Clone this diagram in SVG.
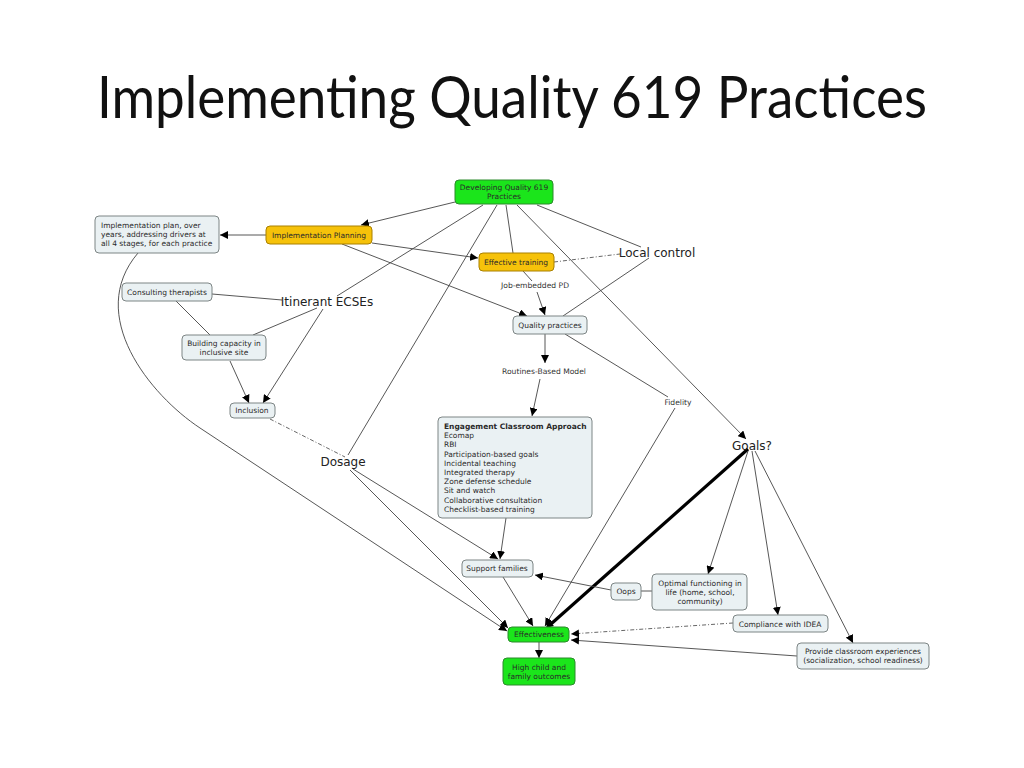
<svg xmlns="http://www.w3.org/2000/svg" width="1024" height="768" viewBox="0 0 1024 768">
<style>
.title{font-family:"Lato","Open Sans",sans-serif;font-size:58px;fill:#111}
.n{fill:#EAF1F3;stroke:#7d8585;stroke-width:1}
.g{fill:#1BE51B;stroke:#2c8a2c;stroke-width:1}
.o{fill:#F6C20A;stroke:#a98000;stroke-width:1}
.t{font-family:"DejaVu Sans",Verdana,sans-serif;font-size:7.5px;fill:#2a2a2a;text-anchor:middle}
.tl{font-family:"DejaVu Sans",Verdana,sans-serif;font-size:7.5px;fill:#2a2a2a}
.lp{font-family:"DejaVu Sans",Verdana,sans-serif;font-size:12px;fill:#222;text-anchor:middle}
.ls{font-family:"DejaVu Sans",Verdana,sans-serif;font-size:7.6px;fill:#333;text-anchor:middle}
.c{fill:none;stroke:#444;stroke-width:0.9}
.d{fill:none;stroke:#555;stroke-width:0.9;stroke-dasharray:4 2 1 2}
.k{fill:none;stroke:#000;stroke-width:3.2}
</style>
<defs>
<marker id="a" viewBox="0 0 10 10" refX="10" refY="5" markerWidth="8" markerHeight="8" markerUnits="userSpaceOnUse" orient="auto">
<path d="M0,0 L10,5 L0,10 z" fill="#000"/>
</marker>
</defs>
<rect width="1024" height="768" fill="#fff"/>
<text class="title" x="97" y="118" textLength="830" lengthAdjust="spacingAndGlyphs">Implementing Quality 619 Practices</text>

<g id="connectors">
<path class="c" d="M455,202 L361,225" marker-end="url(#a)"/>
<path class="c" d="M266,235 L220,235" marker-end="url(#a)"/>
<path class="c" d="M372,243 L478,258" marker-end="url(#a)"/>
<path class="c" d="M342,244 L527,316" marker-end="url(#a)"/>
<path class="c" d="M506,205 L513,253"/>
<path class="c" d="M537,205 L641,247"/>
<path class="c" d="M649,258 L563,316"/>
<path class="d" d="M554,262 L620,254"/>
<path class="c" d="M523,271 L532,281"/>
<path class="c" d="M537,292 L545,315" marker-end="url(#a)"/>
<path class="c" d="M483,205 L337,296"/>
<path class="c" d="M497,205 L348,455"/>
<path class="c" d="M517,205 L746,439" marker-end="url(#a)"/>
<path class="c" d="M212,294 L282,300"/>
<path class="c" d="M176,301 L210,335"/>
<path class="c" d="M317,308 L253,335"/>
<path class="c" d="M323,309 L263,403" marker-end="url(#a)"/>
<path class="c" d="M230,361 L249,403" marker-end="url(#a)"/>
<path class="d" d="M270,419 L345,457"/>
<path class="c" d="M353,469 L498,559" marker-end="url(#a)"/>
<path class="c" d="M350,470 L508,628" marker-end="url(#a)"/>
<path class="c" d="M138,253 C85,315 150,395 200,428 L507,631" marker-end="url(#a)"/>
<path class="c" d="M545,334 L545,363" marker-end="url(#a)"/>
<path class="c" d="M540,379 L532,416" marker-end="url(#a)"/>
<path class="c" d="M565,334 L668,397"/>
<path class="c" d="M675,408 L545,626" marker-end="url(#a)"/>
<path class="c" d="M506,518 L500,559" marker-end="url(#a)"/>
<path class="c" d="M503,577 L533,626" marker-end="url(#a)"/>
<path class="k" d="M748,449 L551,624"/>
<path d="M546,628 L548,620 L554,626 z" fill="#000"/>
<path class="c" d="M748,451 L708,574" marker-end="url(#a)"/>
<path class="c" d="M752,451 L778,615" marker-end="url(#a)"/>
<path class="c" d="M755,451 L853,643" marker-end="url(#a)"/>
<path class="c" d="M641,591 L652,591"/>
<path class="c" d="M611,590 L535,575" marker-end="url(#a)"/>
<path class="d" d="M733,623 L571,634" marker-end="url(#a)"/>
<path class="c" d="M797,656 L571,640" marker-end="url(#a)"/>
<path class="c" d="M539,642 L539,658" marker-end="url(#a)"/>
</g>

<g id="developing">
<rect class="g" x="455" y="180" width="98" height="24" rx="4"/>
<text class="t" x="504" y="190">Developing Quality 619</text>
<text class="t" x="504" y="199">Practices</text>
</g>
<g id="impl-planning">
<rect class="o" x="266" y="226" width="106" height="18" rx="4"/>
<text class="t" x="319" y="238">Implementation Planning</text>
</g>
<g id="impl-plan">
<rect class="n" x="95" y="216" width="124" height="37" rx="4" stroke="#333" stroke-width="1.6"/>
<text class="tl" x="101" y="228">Implementation plan, over</text>
<text class="tl" x="101" y="237">years, addressing drivers at</text>
<text class="tl" x="101" y="246">all 4 stages, for each practice</text>
</g>
<g id="consulting">
<rect class="n" x="122" y="283" width="90" height="18" rx="4"/>
<text class="t" x="167" y="295">Consulting therapists</text>
</g>
<g id="itinerant">
<text class="lp" x="327" y="306">Itinerant ECSEs</text>
</g>
<g id="effective-training">
<rect class="o" x="479" y="253" width="75" height="18" rx="4"/>
<text class="t" x="516" y="265">Effective training</text>
</g>
<g id="local-control">
<text class="lp" x="657" y="257">Local control</text>
</g>
<g id="job-embedded">
<text class="ls" x="535" y="288">Job-embedded PD</text>
</g>
<g id="quality-practices">
<rect class="n" x="513" y="316" width="74" height="18" rx="4"/>
<text class="t" x="550" y="328">Quality practices</text>
</g>
<g id="building">
<rect class="n" x="182" y="335" width="84" height="25" rx="4"/>
<text class="t" x="224" y="346">Building capacity in</text>
<text class="t" x="224" y="355">inclusive site</text>
</g>
<g id="inclusion">
<rect class="n" x="230" y="403" width="45" height="15" rx="4"/>
<text class="t" x="252" y="413">Inclusion</text>
</g>
<g id="dosage">
<text class="lp" x="343" y="466">Dosage</text>
</g>
<g id="routines">
<text class="ls" x="544" y="374">Routines-Based Model</text>
</g>
<g id="fidelity">
<text class="ls" x="678" y="405">Fidelity</text>
</g>
<g id="goals">
<text class="lp" x="752" y="450">Goals?</text>
</g>
<g id="engagement">
<rect class="n" x="438" y="417" width="154" height="101" rx="4"/>
<text class="tl" x="444" y="429" font-weight="bold">Engagement Classroom Approach</text>
<text class="tl" x="444" y="438">Ecomap</text>
<text class="tl" x="444" y="447">RBI</text>
<text class="tl" x="444" y="456.5">Participation-based goals</text>
<text class="tl" x="444" y="465.5">Incidental teaching</text>
<text class="tl" x="444" y="475">Integrated therapy</text>
<text class="tl" x="444" y="484">Zone defense schedule</text>
<text class="tl" x="444" y="493">Sit and watch</text>
<text class="tl" x="444" y="502.5">Collaborative consultation</text>
<text class="tl" x="444" y="512">Checklist-based training</text>
</g>
<g id="support-families">
<rect class="n" x="462" y="560" width="71" height="17" rx="4"/>
<text class="t" x="497" y="571">Support families</text>
</g>
<g id="oops">
<rect class="n" x="611" y="583" width="30" height="17" rx="4"/>
<text class="t" x="626" y="594">Oops</text>
</g>
<g id="optimal">
<rect class="n" x="652" y="574" width="95" height="36" rx="4"/>
<text class="t" x="700" y="586">Optimal functioning in</text>
<text class="t" x="700" y="595">life (home, school,</text>
<text class="t" x="700" y="604">community)</text>
</g>
<g id="effectiveness">
<rect class="g" x="508" y="627" width="61" height="15" rx="4"/>
<text class="t" x="539" y="637">Effectiveness</text>
</g>
<g id="high-outcomes">
<rect class="g" x="503" y="658" width="72" height="27" rx="4"/>
<text class="t" x="539" y="670">High child and</text>
<text class="t" x="539" y="679">family outcomes</text>
</g>
<g id="compliance">
<rect class="n" x="733" y="615" width="95" height="17" rx="4"/>
<text class="t" x="780" y="627">Compliance with IDEA</text>
</g>
<g id="provide">
<rect class="n" x="797" y="643" width="132" height="26" rx="4"/>
<text class="t" x="863" y="654">Provide classroom experiences</text>
<text class="t" x="863" y="663">(socialization, school readiness)</text>
</g>
</svg>
